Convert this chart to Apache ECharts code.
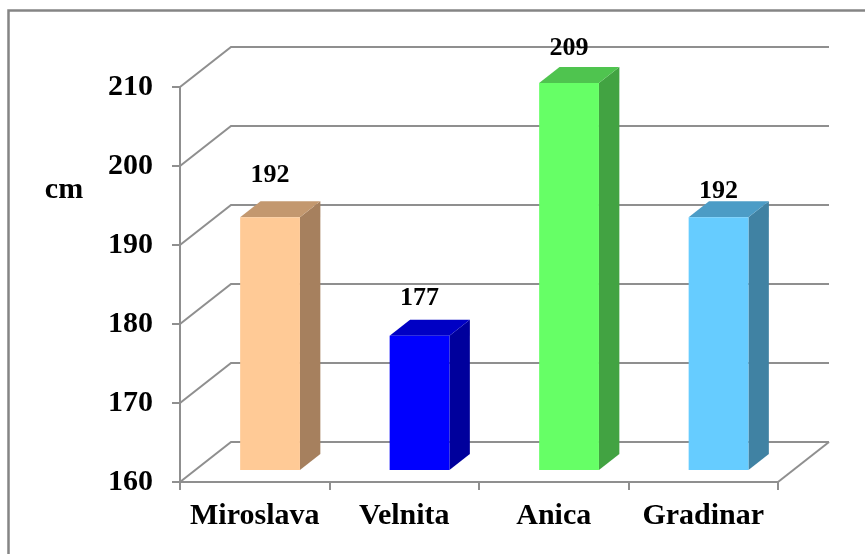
<!DOCTYPE html>
<html>
<head>
<meta charset="utf-8">
<style>
  html, body { margin: 0; padding: 0; background: #ffffff; }
  #chart { width: 865px; height: 554px; }
</style>
<script src="https://cdn.jsdelivr.net/npm/echarts@6/dist/echarts.min.js"></script>
</head>
<body>
<div id="chart"></div>
<script>
// Plant heights per variety (cm)
const categories = ['Miroslava', 'Velnita', 'Anica', 'Gradinar'];
const heights = [192, 177, 209, 192];
const yTicks = [160, 170, 180, 190, 200, 210];
const unitName = 'cm';

// Face colours of each column: front, side, top
const frontColors = ['#FFCA96', '#0000FF', '#66FF66', '#66CCFF'];
const sideColors  = ['#A6805E', '#00009C', '#42A342', '#4082A3'];
const topColors   = ['#C3986F', '#0000C4', '#4FC44F', '#4C9CC6'];

// Oblique projection of the depth axis
const DEPTH_X = 51, DEPTH_Y = 40;
// Columns sit between 30% and 70% of the floor depth
const BAR_FRONT = 0.3, BAR_BACK = 0.7, BAR_WIDTH = 0.4;
// Extra lift of each value label above its column (px)
const labelLift = [42, 37.5, 34.5, 25.5];

const FONT = '"Liberation Serif", "Times New Roman", serif';
const GRID_COLOR = '#8f8f8f';

const chart = echarts.init(document.getElementById('chart'), null, { renderer: 'canvas' });

function renderGrid(params, api) {
  const cs = params.coordSys;
  const v = api.value(1);
  const y = api.coord([0, v])[1];
  const x0 = cs.x, x1 = cs.x + cs.width;
  const style = { stroke: GRID_COLOR, lineWidth: 2, fill: null };
  const children = [{
    type: 'polyline',
    shape: { points: [[x0, y], [x0 + DEPTH_X, y - DEPTH_Y], [x1 + DEPTH_X, y - DEPTH_Y]] },
    style: style
  }];
  if (v === yTicks[0]) {
    // right edge of the floor
    children.push({
      type: 'line',
      shape: { x1: x1, y1: y, x2: x1 + DEPTH_X, y2: y - DEPTH_Y },
      style: style
    });
  }
  return { type: 'group', children: children };
}

function renderBar(params, api) {
  const i = api.value(0);
  const v = api.value(1);
  const top = api.coord([i, v]);
  const base = api.coord([i, yTicks[0]]);
  const band = api.size([1, 0])[0];
  const w = band * BAR_WIDTH;
  const fx = BAR_FRONT * DEPTH_X, fy = BAR_FRONT * DEPTH_Y;
  const dx = (BAR_BACK - BAR_FRONT) * DEPTH_X, dy = (BAR_BACK - BAR_FRONT) * DEPTH_Y;
  const xl = top[0] - w / 2 + fx;
  const xr = xl + w;
  const yt = top[1] - fy;
  const yb = base[1] - fy;
  return {
    type: 'group',
    children: [
      { type: 'polygon',
        shape: { points: [[xr, yt], [xr + dx, yt - dy], [xr + dx, yb - dy], [xr, yb]] },
        style: { fill: sideColors[i] } },
      { type: 'polygon',
        shape: { points: [[xl, yt], [xl + dx, yt - dy], [xr + dx, yt - dy], [xr, yt]] },
        style: { fill: topColors[i] } },
      { type: 'rect',
        shape: { x: xl, y: yt, width: w, height: yb - yt },
        style: { fill: frontColors[i] } },
      { type: 'text',
        x: (xl + xr) / 2, y: yt - labelLift[i],
        style: { text: String(v), fill: '#000', font: 'bold 26px ' + FONT,
                 align: 'center', verticalAlign: 'middle' } }
    ]
  };
}

chart.setOption({
  animation: false,
  backgroundColor: '#ffffff',
  grid: { left: 180, right: 87, top: 87, bottom: 72 },
  xAxis: {
    type: 'category',
    data: categories,
    boundaryGap: true,
    axisLine: { show: true, lineStyle: { color: GRID_COLOR, width: 2 } },
    axisTick: { show: true, interval: 0, length: 8, alignWithLabel: false,
                lineStyle: { color: GRID_COLOR, width: 2 } },
    axisLabel: { interval: 0, hideOverlap: false, color: '#000', fontFamily: FONT,
                 fontWeight: 'bold', fontSize: 30, margin: 19 },
    splitLine: { show: false }
  },
  yAxis: {
    type: 'value',
    min: 160, max: 210, interval: 10,
    axisLine: { show: true, lineStyle: { color: GRID_COLOR, width: 2 } },
    axisTick: { show: true, length: 8, lineStyle: { color: GRID_COLOR, width: 2 } },
    axisLabel: { color: '#000', fontFamily: FONT, fontWeight: 'bold', fontSize: 30, margin: 27 },
    splitLine: { show: false }
  },
  graphic: [
    { type: 'rect', left: 6, top: 8, z: 0, silent: true,
      shape: { x: 0, y: 0, width: 880, height: 580 },
      style: { fill: null, stroke: '#858585', lineWidth: 2.5 } },
    { type: 'text', x: 64, y: 190, silent: true,
      style: { text: unitName, fill: '#000', font: 'bold 30px ' + FONT,
               align: 'center', verticalAlign: 'middle' } }
  ],
  series: [
    { type: 'custom', z: 1, clip: false, silent: true,
      data: yTicks.map(v => [0, v]),
      encode: { x: 0, y: 1 },
      renderItem: renderGrid },
    { type: 'custom', z: 2, clip: false, silent: true,
      data: heights.map((v, i) => [i, v]),
      encode: { x: 0, y: 1 },
      renderItem: renderBar }
  ]
});
</script>
</body>
</html>
